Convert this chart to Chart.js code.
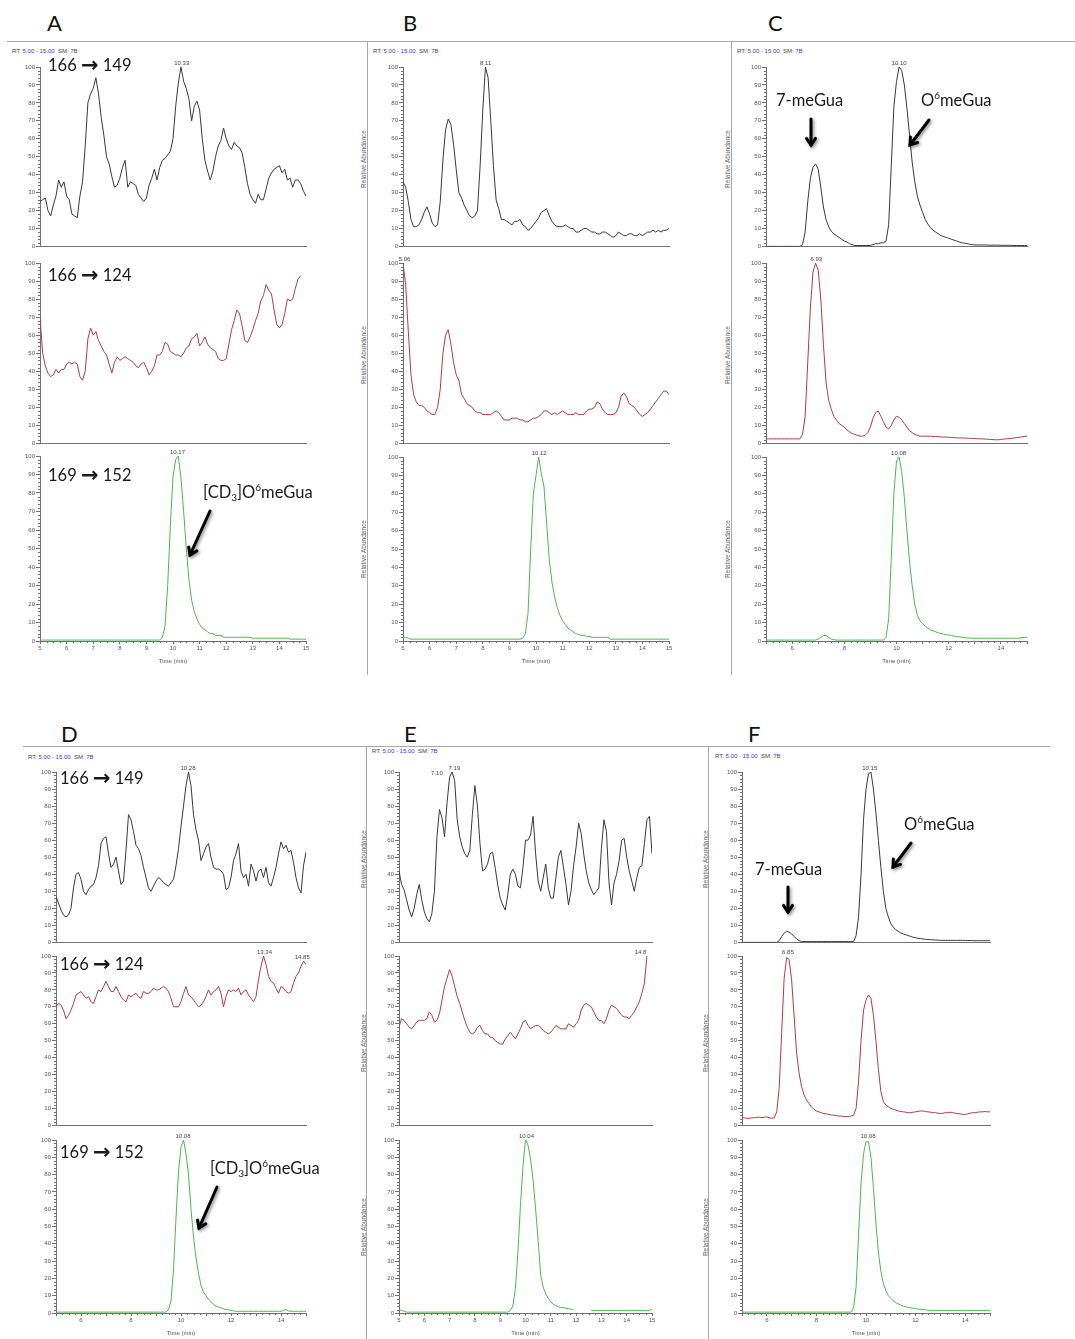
<!DOCTYPE html>
<html>
<head>
<meta charset="utf-8">
<script src="https://cdn.jsdelivr.net/npm/chart.js@4.4.1/dist/chart.umd.min.js"></script>
<style>
  html,body{margin:0;padding:0;background:#fff;}
  body{width:1075px;height:1339px;position:relative;overflow:hidden;font-family:"Liberation Sans",Arial,sans-serif;}
  canvas{position:absolute;}
  .sep{position:absolute;background:#a8a8a8;}
  .lbl{position:absolute;font-family:Lato,"DejaVu Sans",sans-serif;font-size:16.5px;line-height:17px;color:#1a1a1a;white-space:nowrap;}
  .lbl .ar{font-family:"DejaVu Sans",sans-serif;font-weight:bold;font-size:21px;line-height:0;vertical-align:-1px;}
  .lbl sub{font-size:10px;vertical-align:-3px;line-height:0;}
  .lbl sup{font-size:10px;vertical-align:7px;line-height:0;}
  .panel{position:absolute;font-family:Lato,"DejaVu Sans",sans-serif;font-size:22px;line-height:22px;color:#111;}
  .rt{position:absolute;font-size:6px;line-height:6px;color:#444;white-space:nowrap;}
  .rt b{font-weight:normal;color:#3b3bc8;}
  .ra{position:absolute;font-size:6.5px;line-height:7px;color:#666;white-space:nowrap;transform:translate(-50%,-50%) rotate(-90deg);}
</style>
</head>
<body>
<script>
// ---------------- DATA ----------------
const times = [
 5.0,5.1,5.2,5.3,5.4,5.5,5.6,5.7,5.8,5.9,
 6.0,6.1,6.2,6.3,6.4,6.5,6.6,6.7,6.8,6.9,
 7.0,7.1,7.2,7.3,7.4,7.5,7.6,7.7,7.8,7.9,
 8.0,8.1,8.2,8.3,8.4,8.5,8.6,8.7,8.8,8.9,
 9.0,9.1,9.2,9.3,9.4,9.5,9.6,9.7,9.8,9.9,
 10.0,10.1,10.2,10.3,10.4,10.5,10.6,10.7,10.8,10.9,
 11.0,11.1,11.2,11.3,11.4,11.5,11.6,11.7,11.8,11.9,
 12.0,12.1,12.2,12.3,12.4,12.5,12.6,12.7,12.8,12.9,
 13.0,13.1,13.2,13.3,13.4,13.5,13.6,13.7,13.8,13.9,
 14.0,14.1,14.2,14.3,14.4,14.5,14.6,14.7,14.8,14.9,
 15.0];

const yTicks = [0,10,20,30,40,50,60,70,80,90,100];

// Panel A
const a1Vals = [
 25,26,27,20,17,23,28,37,33,36,
 28,26,18,17,16,28,36,56,80,85,
 88,94,85,72,62,50,46,39,33,34,
 38,44,48,33,36,35,34,29,27,25,
 27,34,38,43,37,44,48,49,51,53,
 60,78,91,100,92,88,82,70,78,81,
 76,60,48,42,37,42,50,56,59,66,
 60,56,54,58,56,55,52,44,35,29,
 26,24,29,26,26,32,38,41,43,44,
 45,41,43,37,38,33,37,37,35,31,
 28];
const a2Vals = [
 70,50,43,39,37,38,41,39,41,41,
 44,45,44,45,44,37,35,40,58,64,
 60,62,57,54,51,49,44,39,45,48,
 46,47,48,47,46,45,43,42,44,45,
 42,38,40,43,49,49,51,56,55,51,
 50,49,49,48,50,53,54,58,59,61,
 54,56,59,55,53,52,51,47,46,46,
 47,55,63,68,74,72,65,57,56,59,
 63,68,72,79,82,88,85,83,74,66,
 64,66,72,80,79,80,86,91,93,null,
 null];
const a3Vals = [
 0.5,0.5,0.5,0.5,0.5,0.5,0.5,0.5,0.5,0.5,
 0.5,0.5,0.5,0.5,0.5,0.5,0.5,0.5,0.5,0.5,
 0.5,0.5,0.5,0.5,0.5,0.5,0.5,0.5,0.5,0.5,
 0.5,0.5,0.5,0.5,0.5,0.5,0.5,0.5,0.5,0.5,
 0.5,0.5,0.5,0.5,0.5,0.5,2,8,30,62,
 89,98,100,88,70,50,33,22,16,12,
 9,7,6,5,4,4,3,3,3,2,
 2,2,2,2,2,2,2,2,2,2,
 1.5,1.5,1.5,1.5,1.5,1.5,1.5,1.5,1.5,1.5,
 1.5,1.5,1.5,1.5,1,1,1,1,1,1,
 1];

// Panel B
const b1Vals = [
 36,33,25,15,11,11,12,15,19,22,
 18,13,11,12,25,48,65,71,68,57,
 43,30,27,23,20,17,16,17,20,45,
 76,100,94,70,45,26,21,15,15,14,
 13,12,14,14,15,12,11,9,10,12,
 14,16,19,20,21,17,14,12,11,11,
 11,12,11,10,10,8,8,9,10,10,
 9,8,8,7,7,8,8,7,6,5,
 6,8,7,6,6,7,7,6,6,7,
 6,7,8,8,9,8,9,8,9,9,
 10];
const b2Vals = [
 100,88,62,38,27,23,21,21,20,18,
 17,16,16,20,30,50,60,63,55,45,
 38,35,27,25,22,21,20,18,17,17,
 16,16,16,16,17,18,17,15,13,13,
 13,14,14,14,13,13,12,12,13,14,
 14,15,16,18,18,17,16,17,16,17,
 18,17,16,16,16,17,16,16,16,18,
 19,19,20,23,22,19,17,16,16,16,
 17,20,26,28,26,22,21,20,18,16,
 15,16,17,19,21,23,25,27,29,29,
 27];
const b3Vals = [
 2,2,1.5,1,1,1,1,1,1,1,
 1,1,1,1,1,1,1,1,1,1,
 1,1,1,1,1,1,1,1,1,1,
 1,1,1,1,1,1,1,1,1,1,
 1,1,1,1,1,1.5,4,15,50,80,
 90,100,91,84,64,44,32,24,18,14,
 11,9,7,6,5,4,3.5,3,3,2.5,
 2.5,2,2,2,2,2,2,2,1,1,
 1,1,1,1,1,1,1,1,1,1,
 1,1,1,1,1,1,1,1,1,1,
 1];

// Panel C
const c1Vals = [
 0,0,0,0,0,0,0,0,0,0,
 0,0,0,0,1,8,25,38,44,46,
 43,33,22,15,11,8.5,7,6,5,4,
 3,2.5,1.5,1,0.5,0.5,0.5,0.5,0.5,0.5,
 0.5,1,1.5,1.5,2,2,3,12,45,78,
 92,100,98,90,77,62,47,36,28,23,
 19,15,12.5,10.5,9,8,7,6,5.5,5,
 4.5,4,3.5,3,2.5,2,1.8,1.5,1.2,1,
 0.8,0.8,0.8,0.8,0.8,0.7,0.7,0.7,0.7,0.7,
 0.6,0.6,0.6,0.6,0.6,0.5,0.5,0.5,0.5,0.5,
 0.5];
const c2Vals = [
 2.5,2.5,2.5,2.5,2.5,2.5,2.5,2.5,2.5,2.5,
 2.5,2.5,2.5,2.5,5,15,45,75,95,100,
 96,80,55,34,24,19,15,13,11,10,
 9,7.5,6.5,5.5,5,4.5,4,4,4.5,6,
 9,14,17,18,15,12,9,8,10,13,
 15,14.5,13,11,9,7,6,5,4.5,4,
 4,4,4,4,3.8,3.8,3.7,3.6,3.5,3.5,
 3.4,3.3,3.2,3.1,3,3,3,2.9,2.8,2.8,
 2.7,2.6,2.5,2.5,2.4,2.3,2.2,2.1,2,2,
 2.2,2.4,2.5,2.7,2.8,3,3.2,3.4,3.6,3.8,
 4];
const c3Vals = [
 0.5,0.5,0.5,0.5,0.5,0.5,0.5,0.5,0.5,0.5,
 0.5,0.5,0.5,0.5,0.5,0.5,0.5,0.5,0.5,0.5,
 1,2,3,3,2,1,0.7,0.5,0.5,0.5,
 0.5,0.5,0.5,0.5,0.5,0.5,0.5,0.5,0.5,0.5,
 0.5,0.5,0.5,0.5,0.5,0.5,2,12,45,80,
 98,100,92,78,60,43,30,20,14,11,
 9.5,8,7,6,5.5,5,4.5,4,3.8,3.5,
 3.2,3,2.7,2.5,2.3,2,1.8,1.7,1.6,1.5,
 1.5,1.5,1.5,1.5,1.5,1.5,1.5,1.5,1.5,1.5,
 1.5,1.5,1.5,1.5,1.5,1.5,1.5,1.5,1.8,2,
 2];

// Panel D
const d1Vals = [
 27,23,19,16,15,16,20,32,40,41,
 37,30,28,31,33,34,38,45,58,61,
 62,52,44,46,50,42,34,36,54,75,
 72,65,57,55,51,44,38,32,30,33,
 36,38,37,35,34,33,35,37,45,55,
 68,80,92,100,92,75,66,60,48,52,
 56,58,50,44,43,43,42,40,31,32,
 38,48,52,58,42,38,40,33,46,42,
 36,42,43,38,44,35,33,38,44,52,
 59,55,57,53,54,47,38,32,29,45,
 53];
const d2Vals = [
 70,72,71,68,63,65,68,72,77,78,
 79,77,75,76,73,72,76,80,79,82,
 85,82,79,79,82,79,76,74,73,77,
 76,77,78,76,75,79,78,78,79,81,
 80,80,81,82,81,79,75,70,70,70,
 73,78,82,77,76,74,72,70,71,73,
 76,80,77,79,80,82,78,70,76,80,
 79,80,79,81,77,79,80,77,75,73,
 76,86,94,100,95,88,85,84,81,78,
 82,81,79,78,79,84,88,90,94,97,
 95];
const d3Vals = [
 0.5,0.5,0.5,0.5,0.5,0.5,0.5,0.5,0.5,0.5,
 0.5,0.5,0.5,0.5,0.5,0.5,0.5,0.5,0.5,0.5,
 0.5,0.5,0.5,0.5,0.5,0.5,0.5,0.5,0.5,0.5,
 0.5,0.5,0.5,0.5,0.5,0.5,0.5,0.5,0.5,0.5,
 0.5,0.5,0.5,0.5,0.5,2,7,25,55,82,
 96,100,92,80,60,44,32,23,16,12,
 10,8,6.5,5,4,3.5,3,2.5,2,1.8,
 1.5,1.2,1,1,1,1,1,1,1,1,
 1,1,1,1,1,1,1,1,1,1,
 1,1.5,2,1.2,1,1,1,1,1,1,
 1];

// Panel E
const e1Vals = [
 42,34,31,25,19,15,20,28,34,25,
 18,14,12,17,30,62,78,73,62,82,
 97,100,95,72,62,56,52,50,54,75,
 92,80,58,42,43,46,52,53,44,34,
 26,22,19,28,40,43,40,33,32,44,
 60,60,63,74,52,36,30,38,46,32,
 26,26,38,50,54,44,34,22,30,45,
 56,70,64,52,42,35,31,28,30,32,
 55,72,65,35,22,35,40,48,60,61,
 50,42,36,30,38,44,45,58,72,74,
 52];
const e2Vals = [
 58,63,62,60,58,57,59,61,62,62,
 62,63,67,65,61,62,66,74,82,87,
 92,88,82,76,72,67,62,58,55,54,
 55,58,59,56,54,54,52,52,50,49,
 48,48,51,53,55,53,51,54,57,61,
 62,59,57,58,59,59,58,56,55,54,
 55,57,59,58,57,57,57,60,59,58,
 60,62,68,71,72,71,70,67,64,62,
 62,60,63,68,71,70,69,67,65,64,
 64,63,65,67,70,73,78,84,100,null,
 null];
const e3Vals = [
 2,1.5,1,0.5,0.5,0.5,0.5,0.5,0.5,0.5,
 0.5,0.5,0.5,0.5,0.5,0.5,0.5,0.5,0.5,0.5,
 0.5,0.5,0.5,0.5,0.5,0.5,0.5,0.5,0.5,0.5,
 0.5,0.5,0.5,0.5,0.5,0.5,0.5,0.5,0.5,0.5,
 0.5,0.5,0.5,0.5,1.5,4,14,35,62,85,
 100,97,89,77,60,42,22,15,11,8.5,
 6.5,5,4.2,3.6,3.2,3,2.8,2.5,2.3,2,
 null,null,null,null,null,null,1.5,1.5,1.5,1.5,
 1.5,1.5,1.5,1.5,1.5,1.5,1.5,1.5,1.5,1.5,
 1.5,1.5,1.5,1.5,1.5,1.5,1.5,1.5,1.5,1.5,
 2];

// Panel F
const f1Vals = [
 0,0,0,0,0,0,0,0,0,0,
 0,0,0,0,0,1,3.5,5.5,6.5,6,
 5,3.5,2,1,0.5,0.5,0.5,0.5,0.5,0.5,
 0.5,0.5,0.5,0.5,0.5,0.5,0.5,0.5,0.5,0.5,
 0.5,0.5,0.5,0.5,0.5,0.5,4,15,40,72,
 90,99,100,90,76,60,44,30,20,15,
 11,9,7.5,6.5,5.5,5,4.5,4,3.5,3,
 2.7,2.4,2.2,2,1.8,1.7,1.6,1.5,1.4,1.3,
 1.2,1.2,1.2,1.2,1.2,1.2,1.2,1.2,1.2,1.2,
 1.1,1.1,1.1,1.1,1,1,1,1,1,1,
 1];
const f2Vals = [
 4.5,4.5,4.2,4.2,4.5,4.5,4.8,4.8,4.6,4.8,
 5,4.5,4.2,4.5,8,22,55,87,99,98,
 86,65,43,31,23,18,15,13,11,9.5,
 8.5,8,7.5,7,6.8,6.5,6.2,6,5.8,5.5,
 5.5,5.3,5.2,5.3,5.5,6,10,26,50,68,
 74,77,75,65,50,33,20,14,12,11,
 10,9.5,9,8.5,8.2,8,7.8,7.5,7.5,7.8,
 8,8.3,8.5,8.5,8.2,8,7.8,7.5,7.5,7.2,
 7,7.2,7.5,7.5,7.8,7.5,7.2,7,6.8,6.5,
 6.5,6.8,7.2,7.5,7.5,7.8,8,8,8.2,8,
 8];
const f3Vals = [
 0.5,0.5,0.5,0.5,0.5,0.5,0.5,0.5,0.5,0.5,
 0.5,0.5,0.5,0.5,0.5,0.5,0.5,0.5,0.5,0.5,
 0.5,0.5,0.5,0.5,0.5,0.5,0.5,0.5,0.5,0.5,
 0.5,0.5,0.5,0.5,0.5,0.5,0.5,0.5,0.5,0.5,
 0.5,0.5,0.5,0.5,0.5,3,15,45,75,92,
 99,99,90,72,52,35,24,17,13,10,
 8.5,7,6,5.3,4.6,4,3.6,3.3,3,2.8,
 2.5,2.3,2.2,2,1.8,1.6,1.5,1.5,1.5,1.5,
 1.5,1.5,1.5,1.5,1.5,1.5,1.5,1.5,1.5,1.5,
 1.5,1.5,1.5,1.5,1.5,1.5,1.5,1.5,1.5,1.5,
 1.5];

// peak labels: [time, abundance, text]
const peaksA1 = [[10.33,100,'10.33']];
const peaksA3 = [[10.17,100,'10.17']];
const peaksB1 = [[8.11,100,'8.11']];
const peaksB2 = [[5.06,100,'5.06']];
const peaksB3 = [[10.12,100,'10.12']];
const peaksC1 = [[10.10,100,'10.10']];
const peaksC2 = [[6.93,100,'6.93']];
const peaksC3 = [[10.08,100,'10.08']];
const peaksD1 = [[10.28,100,'10.28']];
const peaksD2 = [[13.34,100,'13.34'],[14.85,97,'14.85']];
const peaksD3 = [[10.08,100,'10.08']];
const peaksE1 = [[6.5,97,'7.10'],[7.19,100,'7.19']];
const peaksE2 = [[14.55,100,'14.8']];
const peaksE3 = [[10.04,100,'10.04']];
const peaksF1 = [[10.15,100,'10.15']];
const peaksF2 = [[6.85,100,'6.85']];
const peaksF3 = [[10.08,100,'10.08']];

// ---------------- LAYOUT ----------------
const BLACK = '#3a3a3a', RED = '#b53c3e', GREEN = '#4cb84c', AXIS = '#707070';
const cols = {
  A:{x0:40, x1:306, rows:[[67,250],[263,447],[456,641]], even:false},
  B:{x0:403, x1:669, rows:[[67,250],[263,447],[457,641]], even:false},
  C:{x0:766, x1:1027, rows:[[67,250],[263,447],[457,641]], even:true},
  D:{x0:56, x1:306, rows:[[772,946],[956,1129],[1140,1313]], even:true},
  E:{x0:399, x1:652, rows:[[772,946],[956,1129],[1140,1313]], even:false},
  F:{x0:742, x1:990, rows:[[772,946],[956,1129],[1140,1313]], even:true}
};
const charts = [
  ['A',0,a1Vals,BLACK,peaksA1],['A',1,a2Vals,RED,[]],['A',2,a3Vals,GREEN,peaksA3],
  ['B',0,b1Vals,BLACK,peaksB1],['B',1,b2Vals,RED,peaksB2],['B',2,b3Vals,GREEN,peaksB3],
  ['C',0,c1Vals,BLACK,peaksC1],['C',1,c2Vals,RED,peaksC2],['C',2,c3Vals,GREEN,peaksC3],
  ['D',0,d1Vals,BLACK,peaksD1],['D',1,d2Vals,RED,peaksD2],['D',2,d3Vals,GREEN,peaksD3],
  ['E',0,e1Vals,BLACK,peaksE1],['E',1,e2Vals,RED,peaksE2],['E',2,e3Vals,GREEN,peaksE3],
  ['F',0,f1Vals,BLACK,peaksF1],['F',1,f2Vals,RED,peaksF2],['F',2,f3Vals,GREEN,peaksF3]
];

const extras = {
  id:'extras',
  afterDraw(chart, args, opts){
    const {ctx, chartArea} = chart;
    const x = chart.scales.x, y = chart.scales.y;
    ctx.save();
    ctx.strokeStyle = AXIS; ctx.lineWidth = 1;
    ctx.beginPath();
    for (let v = 2; v < 100; v += 2){
      if (v % 10 === 0) continue;
      const py = Math.round(y.getPixelForValue(v)) + 0.5;
      ctx.moveTo(chartArea.left - 2, py); ctx.lineTo(chartArea.left, py);
    }
    if (opts.bottom){
      for (let k = 1; k < 40; k++){
        if (k % 4 === 0) continue;
        const px = Math.round(x.getPixelForValue(5 + k*0.25)) + 0.5;
        ctx.moveTo(px, chartArea.bottom); ctx.lineTo(px, chartArea.bottom + 2);
      }
    }
    ctx.stroke();
    ctx.fillStyle = '#444';
    ctx.font = '6px "Liberation Sans", Arial, sans-serif';
    ctx.textAlign = 'center'; ctx.textBaseline = 'bottom';
    for (const p of opts.peaks){
      ctx.fillText(p[2], x.getPixelForValue(p[0]), y.getPixelForValue(p[1]) - 1);
    }
    ctx.restore();
  }
};

const PADT = 10, PADR = 6, YW = 22;
charts.forEach(([col,row,vals,color,peaks]) => {
  const g = cols[col];
  const [y100, y0] = g.rows[row];
  const bottom = row === 2;
  const xh = bottom ? 24 : 1;
  const pw = g.x1 - g.x0, ph = y0 - y100;
  const cv = document.createElement('canvas');
  cv.width = YW + pw + PADR; cv.height = PADT + ph + xh;
  cv.style.left = (g.x0 - YW) + 'px'; cv.style.top = (y100 - PADT) + 'px';
  document.body.appendChild(cv);
  const even = g.even;
  new Chart(cv, {
    type:'line',
    data:{datasets:[{data: times.map((t,i)=>({x:t, y:vals[i]})), borderColor:color, borderWidth:1,
      pointRadius:0, tension:0, spanGaps:false}]},
    options:{
      responsive:false, animation:false, devicePixelRatio:1,
      layout:{padding:{top:PADT, right:PADR, left:0, bottom:0}},
      plugins:{legend:{display:false}, tooltip:{enabled:false}, extras:{bottom, peaks}},
      scales:{
        x:{type:'linear', min:5, max:15,
          afterFit(s){ s.height = xh; },
          grid:{drawOnChartArea:false, drawTicks:bottom, tickLength:3, color:AXIS},
          border:{color:AXIS},
          ticks:{display:bottom, stepSize:1, autoSkip:false, maxRotation:0, padding:1,
            font:{size:6}, color:'#555',
            callback:v => even ? (v % 2 === 0 ? String(v) : '') : String(v)},
          title:{display:bottom, text:'Time (min)', font:{size:6}, color:'#555', padding:0}
        },
        y:{min:0, max:100,
          afterFit(s){ s.width = YW; },
          afterBuildTicks(s){ s.ticks = yTicks.map(v => ({value:v})); },
          grid:{drawOnChartArea:false, tickLength:4, color:AXIS},
          border:{color:AXIS},
          ticks:{autoSkip:false, padding:1, font:{size:6}, color:'#555'}
        }
      }
    },
    plugins:[extras]
  });
});

// ---------------- DECORATION ----------------
function add(html){ document.body.insertAdjacentHTML('beforeend', html); }
// separators
add('<div class="sep" style="left:7px;top:41px;width:1068px;height:1px"></div>');
add('<div class="sep" style="left:367px;top:41px;width:1px;height:634px"></div>');
add('<div class="sep" style="left:731px;top:41px;width:1px;height:634px"></div>');
add('<div class="sep" style="left:23px;top:746px;width:1027px;height:1px"></div>');
add('<div class="sep" style="left:366px;top:746px;width:1px;height:593px"></div>');
add('<div class="sep" style="left:708px;top:746px;width:1px;height:593px"></div>');
// panel letters
[['A',47,12],['B',403,12],['C',768,12],['D',61,723],['E',404,723],['F',748,723]].forEach(([t,x,y]) =>
  add(`<div class="panel" style="left:${x}px;top:${y}px">${t}</div>`));
// RT header lines
[[12,48],[373,48],[737,48],[28,754],[372,748],[715,753]].forEach(([x,y]) =>
  add(`<div class="rt" style="left:${x}px;top:${y}px">RT: <b>5.00 - 15.00</b>&nbsp;&nbsp;SM: <b>7B</b></div>`));
// Relative Abundance labels
[[363,'B'],[727,'C'],[363,'E'],[705,'F']].forEach(([x,c]) => {
  cols[c].rows.forEach(([a,b]) => add(`<div class="ra" style="left:${x}px;top:${(a+b)/2}px">Relative Abundance</div>`));
});
// transition labels and compound labels
const tr = [['166','149',48,57],['166','124',48,267],['169','152',48,467],
            ['166','149',60,770],['166','124',60,956],['169','152',60,1144]];
tr.forEach(([a,b,x,y]) => add(`<div class="lbl" style="left:${x}px;top:${y}px">${a} <span class="ar">→</span> ${b}</div>`));
add('<div class="lbl" style="left:203px;top:484px">[CD<sub>3</sub>]O<sup>6</sup>meGua</div>');
add('<div class="lbl" style="left:210px;top:1160px">[CD<sub>3</sub>]O<sup>6</sup>meGua</div>');
add('<div class="lbl" style="left:776px;top:92px">7-meGua</div>');
add('<div class="lbl" style="left:921px;top:92px">O<sup>6</sup>meGua</div>');
add('<div class="lbl" style="left:904px;top:816px">O<sup>6</sup>meGua</div>');
add('<div class="lbl" style="left:755px;top:861px">7-meGua</div>');
// arrows
const arrows = [[210,511,190,555],[811,119,811,145],[929,120,910,145],[217,1187,199,1228],[911,843,893,867],[788,887,788,912]];
let svg = '<svg width="1075" height="1339" style="position:absolute;left:0;top:0;pointer-events:none">' +
  '<defs><filter id="sh" x="-50%" y="-50%" width="200%" height="200%"><feDropShadow dx="1.5" dy="1.5" stdDeviation="1.5" flood-color="#000" flood-opacity="0.45"/></filter></defs>';
arrows.forEach(([x1,y1,x2,y2]) => {
  const ang = Math.atan2(y2-y1, x2-x1), h = 8, s = 0.6;
  const ax = x2 - h*Math.cos(ang - s), ay = y2 - h*Math.sin(ang - s);
  const bx = x2 - h*Math.cos(ang + s), by = y2 - h*Math.sin(ang + s);
  svg += `<g filter="url(#sh)" stroke="#000" stroke-width="3" fill="none" stroke-linecap="round" stroke-linejoin="miter">` +
    `<line x1="${x1}" y1="${y1}" x2="${x2}" y2="${y2}"/><polyline points="${ax},${ay} ${x2},${y2} ${bx},${by}"/></g>`;
});
svg += '</svg>';
add(svg);
</script>
</body>
</html>
